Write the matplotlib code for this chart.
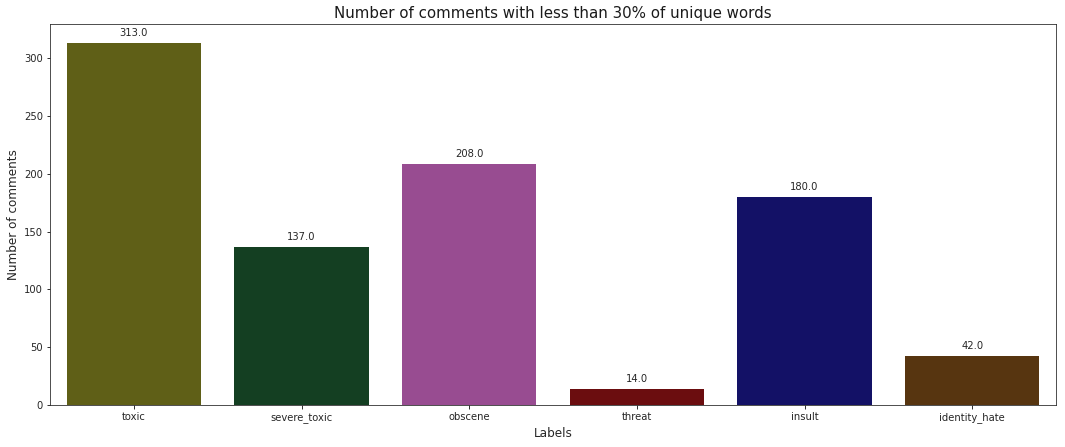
import matplotlib
matplotlib.use("Agg")
import matplotlib.pyplot as plt

labels = ["toxic", "severe_toxic", "obscene", "threat", "insult", "identity_hate"]
counts = [313, 137, 208, 14, 180, 42]
colors = ["#5f5f17", "#143f22", "#984c91", "#6b0d0f", "#131166", "#573510"]

dpi = 72
fig = plt.figure(figsize=(1065 / dpi, 447 / dpi), dpi=dpi)
ax = fig.add_axes([50 / 1065, 1 - 405 / 447, (1056 - 50) / 1065, (405 - 24) / 447])

x = list(range(len(labels)))
bars = ax.bar(x, counts, width=0.8, color=colors)
ax.set_xlim(-0.5, len(labels) - 0.5)
ax.set_ylim(0, 329.4)
ax.set_xticks(x)
ax.set_xticklabels(labels, fontsize=10, color="#262626")
ax.tick_params(axis="y", labelsize=10, labelcolor="#262626")
for s in ax.spines.values():
    s.set_color("#262626")

for b, v in zip(bars, counts):
    ax.annotate(f"{float(v)}", (b.get_x() + b.get_width() / 2, b.get_height()),
                xytext=(0, 10), textcoords="offset points", ha="center", va="center",
                fontsize=10, color="#262626")

ax.set_title("Number of comments with less than 30% of unique words", fontsize=15, color="#1a1a1a")
ax.set_xlabel("Labels", fontsize=12, color="#262626")
ax.set_ylabel("Number of comments", fontsize=12, color="#262626")

fig.savefig("out.png", dpi=dpi, facecolor="white")
